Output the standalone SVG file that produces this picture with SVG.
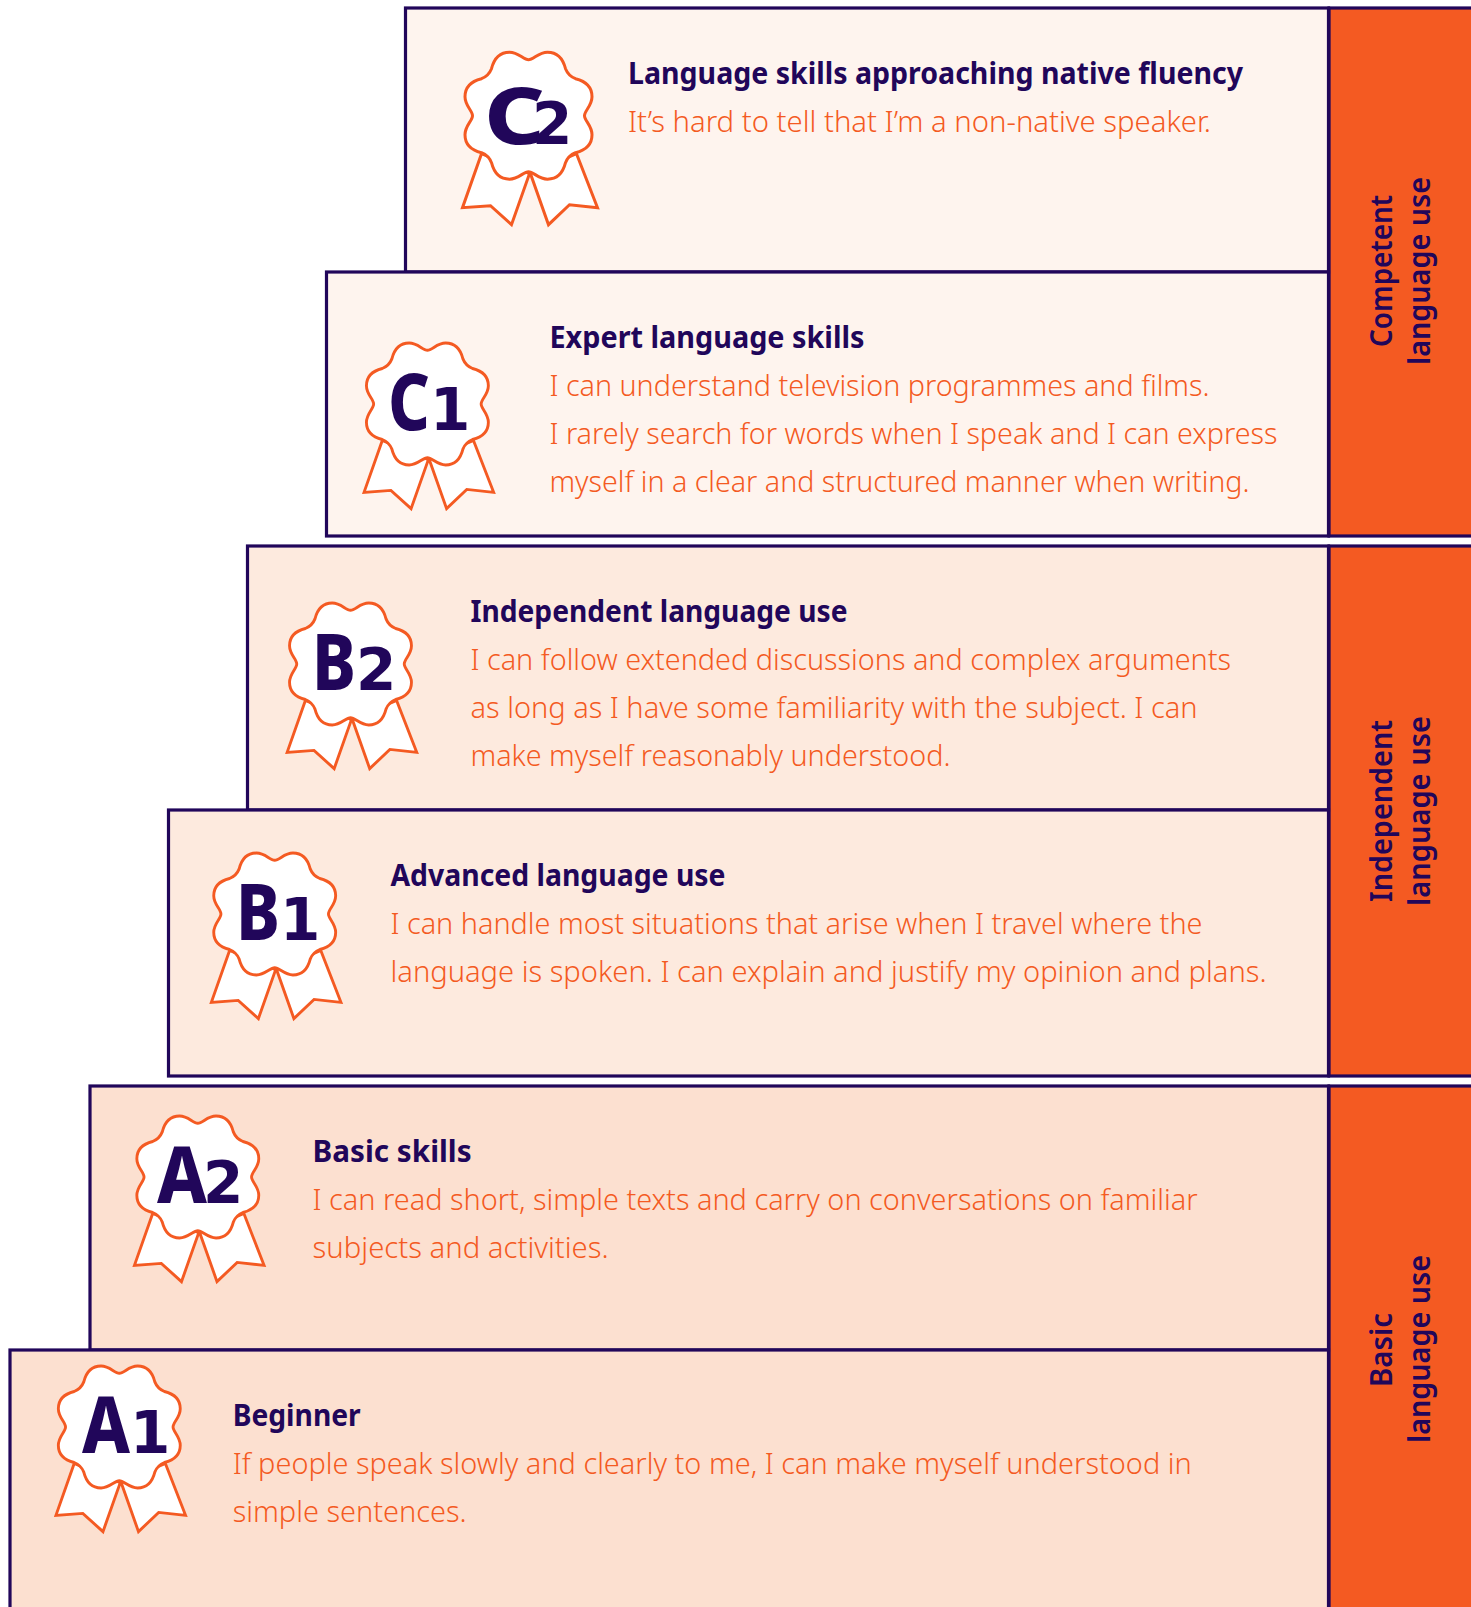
<svg xmlns="http://www.w3.org/2000/svg" width="1471" height="1607" viewBox="0 0 1471 1607">
<style>
.box{stroke:#21065a;stroke-width:3.2}
.c{fill:#fef4ee}.b{fill:#fdeade}.a{fill:#fce0d0}
.side{fill:#f45a22;stroke:#21065a;stroke-width:3.2}
.h{font-family:"Noto Sans","Liberation Sans",sans-serif;font-weight:700;font-size:30px;fill:#21065a}
.t{font-family:"Noto Sans","Liberation Sans",sans-serif;font-weight:300;font-size:30px;fill:#f45a22}
.s{font-family:"Noto Sans","Liberation Sans",sans-serif;font-weight:600;font-size:31px;fill:#21065a;text-anchor:middle}
.l{font-family:"Noto Sans","Liberation Sans",sans-serif;font-weight:800;font-size:78px;fill:#21065a}
.n{font-family:"DejaVu Sans",sans-serif;font-weight:700;font-size:58px;fill:#21065a}
.rib{fill:#fff;stroke:#f45a22;stroke-width:3}
</style>
<defs>
<g id="badge">
<path class="rib" d="M-47,38L-66,92L-38,90L-17,109L1,58ZM48,38L69,92L41,89L20,109L2,58Z"/>
<path class="rib" d="M0,-56C5,-56 10,-63.5 19,-63.5C30,-63.5 35,-55 37,-47C39,-42 42,-39 47,-37C55,-35 63.5,-30 63.5,-19C63.5,-10 56,-5 56,0C56,5 63.5,10 63.5,19C63.5,30 55,35 47,37C42,39 39,42 37,47C35,55 30,63.5 19,63.5C10,63.5 5,56 0,56C-5,56 -10,63.5 -19,63.5C-30,63.5 -35,55 -37,47C-39,42 -42,39 -47,37C-55,35 -63.5,30 -63.5,19C-63.5,10 -56,5 -56,0C-56,-5 -63.5,-10 -63.5,-19C-63.5,-30 -55,-35 -47,-37C-42,-39 -39,-42 -37,-47C-35,-55 -30,-63.5 -19,-63.5C-10,-63.5 -5,-56 0,-56Z"/>
</g>
</defs>
<rect width="1471" height="1607" fill="#fff"/>
<g id="side-competent"><rect class="side" x="1329" y="8" width="150" height="528"/>
<text class="s" transform="translate(1391.5,271) rotate(-90)" textLength="152" lengthAdjust="spacingAndGlyphs">Competent</text>
<text class="s" transform="translate(1430,271) rotate(-90)" textLength="188" lengthAdjust="spacingAndGlyphs">language use</text></g>
<g id="side-independent"><rect class="side" x="1329" y="546" width="150" height="530"/>
<text class="s" transform="translate(1391.5,811) rotate(-90)" textLength="182" lengthAdjust="spacingAndGlyphs">Independent</text>
<text class="s" transform="translate(1430,811) rotate(-90)" textLength="190" lengthAdjust="spacingAndGlyphs">language use</text></g>
<g id="side-basic"><rect class="side" x="1329" y="1086" width="150" height="530"/>
<text class="s" transform="translate(1391.5,1350) rotate(-90)" textLength="74" lengthAdjust="spacingAndGlyphs">Basic</text>
<text class="s" transform="translate(1430,1349) rotate(-90)" textLength="188" lengthAdjust="spacingAndGlyphs">language use</text></g>

<g id="C2"><rect class="box c" x="405.500" y="8" width="923" height="264"/>
<use href="#badge" transform="translate(528.5,115.7)"/>
<text class="l" x="484" y="144" textLength="61" lengthAdjust="spacingAndGlyphs">C</text><text class="n" x="532" y="144">2</text>
<text class="h" x="628" y="84" textLength="615" lengthAdjust="spacingAndGlyphs">Language skills approaching native fluency</text>
<text class="t" x="628" y="132" textLength="583" lengthAdjust="spacingAndGlyphs">It’s hard to tell that I’m a non-native speaker.</text></g>

<g id="C1"><rect class="box c" x="326.500" y="272" width="1002" height="264"/>
<use href="#badge" transform="translate(427.4,404) scale(.96)"/>
<text class="l" x="388" y="430" textLength="42" lengthAdjust="spacingAndGlyphs">C</text><text class="n" x="430" y="430">1</text>
<text class="h" x="549.500" y="348" textLength="315" lengthAdjust="spacingAndGlyphs">Expert language skills</text>
<text class="t" x="549.500" y="396" textLength="660" lengthAdjust="spacingAndGlyphs">I can understand television programmes and films.</text>
<text class="t" x="549.500" y="444" textLength="728" lengthAdjust="spacingAndGlyphs">I rarely search for words when I speak and I can express</text>
<text class="t" x="549.500" y="492" textLength="700" lengthAdjust="spacingAndGlyphs">myself in a clear and structured manner when writing.</text></g>

<g id="B2"><rect class="box b" x="247.500" y="546" width="1081" height="264"/>
<use href="#badge" transform="translate(350.5,664) scale(.96)"/>
<text class="l" x="312" y="690" textLength="44" lengthAdjust="spacingAndGlyphs">B</text><text class="n" x="356" y="690">2</text>
<text class="h" x="470.500" y="622" textLength="377" lengthAdjust="spacingAndGlyphs">Independent language use</text>
<text class="t" x="470.500" y="670" textLength="760.500" lengthAdjust="spacingAndGlyphs">I can follow extended discussions and complex arguments</text>
<text class="t" x="470.500" y="718" textLength="727" lengthAdjust="spacingAndGlyphs">as long as I have some familiarity with the subject. I can</text>
<text class="t" x="470.500" y="766" textLength="480" lengthAdjust="spacingAndGlyphs">make myself reasonably understood.</text></g>

<g id="B1"><rect class="box b" x="168.500" y="810" width="1160" height="266"/>
<use href="#badge" transform="translate(274.7,914) scale(.96)"/>
<text class="l" x="236" y="940" textLength="44" lengthAdjust="spacingAndGlyphs">B</text><text class="n" x="280" y="940">1</text>
<text class="h" x="390.500" y="886" textLength="335" lengthAdjust="spacingAndGlyphs">Advanced language use</text>
<text class="t" x="390.500" y="934" textLength="812" lengthAdjust="spacingAndGlyphs">I can handle most situations that arise when I travel where the</text>
<text class="t" x="390.500" y="982" textLength="876" lengthAdjust="spacingAndGlyphs">language is spoken. I can explain and justify my opinion and plans.</text></g>

<g id="A2"><rect class="box a" x="90" y="1086" width="1238.500" height="264"/>
<use href="#badge" transform="translate(197.800,1177) scale(.96)"/>
<text class="l" x="157" y="1203" textLength="50" lengthAdjust="spacingAndGlyphs">A</text><text class="n" x="203" y="1203">2</text>
<text class="h" x="312.600" y="1162" textLength="159" lengthAdjust="spacingAndGlyphs">Basic skills</text>
<text class="t" x="312.600" y="1210" textLength="885" lengthAdjust="spacingAndGlyphs">I can read short, simple texts and carry on conversations on familiar</text>
<text class="t" x="312.600" y="1258" textLength="296" lengthAdjust="spacingAndGlyphs">subjects and activities.</text></g>

<g id="A1"><rect class="box a" x="10" y="1350" width="1318.500" height="270"/>
<use href="#badge" transform="translate(119.300,1427) scale(.96)"/>
<text class="l" x="82" y="1453" textLength="48" lengthAdjust="spacingAndGlyphs">A</text><text class="n" x="130" y="1453">1</text>
<text class="h" x="232.700" y="1426" textLength="128" lengthAdjust="spacingAndGlyphs">Beginner</text>
<text class="t" x="232.700" y="1474" textLength="959" lengthAdjust="spacingAndGlyphs">If people speak slowly and clearly to me, I can make myself understood in</text>
<text class="t" x="232.700" y="1522" textLength="234" lengthAdjust="spacingAndGlyphs">simple sentences.</text></g>
</svg>
